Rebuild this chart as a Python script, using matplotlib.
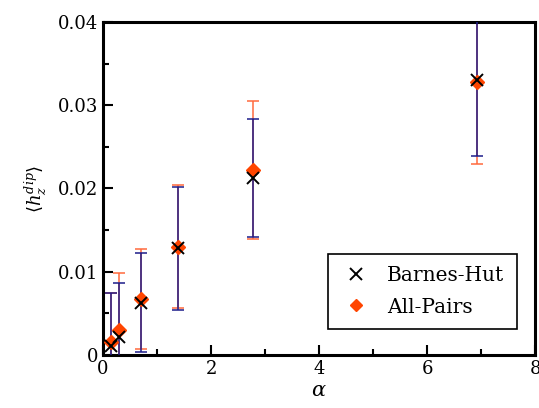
import matplotlib
matplotlib.use('Agg')
import matplotlib.pyplot as plt
from matplotlib.ticker import MultipleLocator

# data
alpha = [0.15, 0.30, 0.70, 1.39, 2.77, 6.93]

bh_mean = [0.0011, 0.0022, 0.0063, 0.0128, 0.0213, 0.0330]
bh_err = [0.0063, 0.0065, 0.0060, 0.0074, 0.0071, 0.0091]

ap_mean = [0.0015, 0.0030, 0.0067, 0.0130, 0.0222, 0.0328]
ap_err = [0.0060, 0.0069, 0.0060, 0.0074, 0.0083, 0.0099]

plt.rcParams['font.family'] = 'DejaVu Serif'
plt.rcParams['mathtext.fontset'] = 'dejavuserif'

fig = plt.figure(figsize=(5.39, 4.08), dpi=100)
ax = fig.add_axes([0.191, 0.130, 0.802, 0.816])

# error bars (all-pairs below, barnes-hut on top)
ax.errorbar(alpha, ap_mean, yerr=ap_err, fmt='none', ecolor='#ff6a3d',
            elinewidth=1.1, capsize=4, capthick=1.1, zorder=2)
ax.errorbar(alpha, bh_mean, yerr=bh_err, fmt='none', ecolor='#1c1c8a',
            elinewidth=1.1, capsize=4, capthick=1.1, zorder=3)

ap, = ax.plot(alpha, ap_mean, 'D', color='#ff4500', markersize=7,
              linestyle='none', label='All-Pairs', zorder=4)
bh, = ax.plot(alpha, bh_mean, 'x', color='black', markersize=9,
              markeredgewidth=1.4, linestyle='none', label='Barnes-Hut', zorder=5)

ax.set_xlim(0, 8)
ax.set_ylim(0, 0.04)
ax.xaxis.set_minor_locator(MultipleLocator(1))
ax.yaxis.set_minor_locator(MultipleLocator(0.005))
ax.set_yticks([0, 0.01, 0.02, 0.03, 0.04])
ax.set_yticklabels(['0', '0.01', '0.02', '0.03', '0.04'])
ax.set_xticks([0, 2, 4, 6, 8])
ax.set_xticklabels(['0', '2', '4', '6', '8'])

ax.tick_params(which='both', direction='in', labelsize=13, width=1.5)
ax.tick_params(which='major', length=7)
ax.tick_params(which='minor', length=4)
for s in ax.spines.values():
    s.set_linewidth(2.2)

ax.set_xlabel(r'$\alpha$', fontsize=15, labelpad=2)
ax.set_ylabel(r'$\langle h_z^{dip} \rangle$', fontsize=13, labelpad=6)

leg = ax.legend(handles=[bh, ap], loc='lower right', fontsize=14.5,
                fancybox=False, edgecolor='black', framealpha=1,
                bbox_to_anchor=(0.958, 0.078), borderaxespad=0,
                handlelength=1.6, handletextpad=0.75,
                borderpad=0.62, labelspacing=0.62, markerscale=0.9)
leg.get_frame().set_linewidth(1.2)

fig.savefig('out.png', dpi=100)
